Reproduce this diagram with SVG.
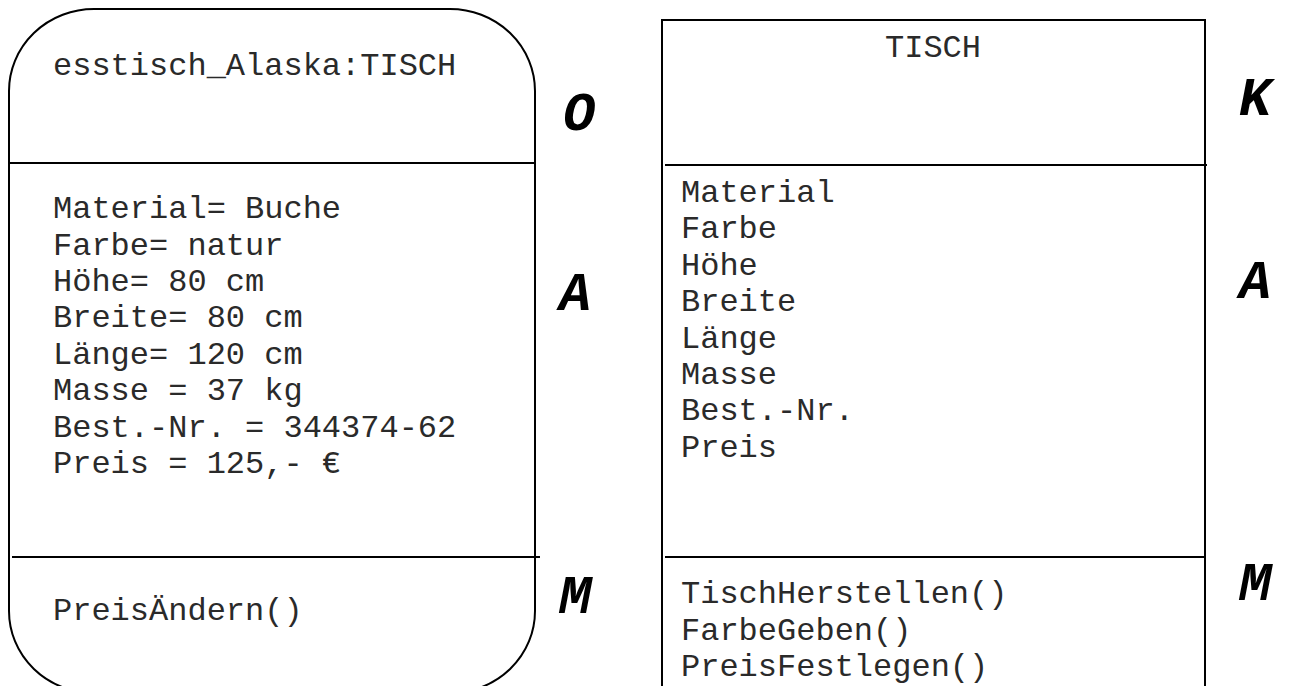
<svg xmlns="http://www.w3.org/2000/svg" width="1291" height="686" viewBox="0 0 1291 686">
<style>
.ln{stroke:#000;stroke-width:2;fill:none}
.t{font-family:"Liberation Mono","Courier New",monospace;font-size:32px;fill:#2a2a2a}
.lb{font-family:"Liberation Mono","Courier New",monospace;font-size:54px;font-weight:bold;font-style:italic;fill:#000}
</style>
<rect width="1291" height="686" fill="#fff"/>
<g id="object">
<rect class="ln" x="9" y="9" width="526" height="684" rx="85" ry="82"/>
<line class="ln" x1="9" y1="163" x2="535" y2="163"/>
<line class="ln" x1="12" y1="557" x2="540" y2="557"/>
<text class="t" x="53" y="75">esstisch_Alaska:TISCH</text>
<text class="t" x="53" y="218">Material= Buche</text>
<text class="t" x="53" y="255">Farbe= natur</text>
<text class="t" x="53" y="291">Höhe= 80 cm</text>
<text class="t" x="53" y="327">Breite= 80 cm</text>
<text class="t" x="53" y="364">Länge= 120 cm</text>
<text class="t" x="53" y="400">Masse = 37 kg</text>
<text class="t" x="53" y="437">Best.-Nr. = 344374-62</text>
<text class="t" x="53" y="473">Preis = 125,- €</text>
<text class="t" x="53" y="620">PreisÄndern()</text>
</g>
<g id="class">
<polyline class="ln" points="662,700 662,20 1205,20 1205,700"/>
<line class="ln" x1="665" y1="165" x2="1207" y2="165"/>
<line class="ln" x1="665" y1="557" x2="1205" y2="557"/>
<text class="t" x="933" y="57" text-anchor="middle">TISCH</text>
<text class="t" x="681" y="202">Material</text>
<text class="t" x="681" y="238">Farbe</text>
<text class="t" x="681" y="275">Höhe</text>
<text class="t" x="681" y="311">Breite</text>
<text class="t" x="681" y="348">Länge</text>
<text class="t" x="681" y="384">Masse</text>
<text class="t" x="681" y="420">Best.-Nr.</text>
<text class="t" x="681" y="457">Preis</text>
<text class="t" x="681" y="603">TischHerstellen()</text>
<text class="t" x="681" y="640">FarbeGeben()</text>
<text class="t" x="681" y="676">PreisFestlegen()</text>
</g>
<g id="labels">
<text class="lb" x="563" y="130">O</text>
<text class="lb" x="559" y="310">A</text>
<text class="lb" x="559" y="613">M</text>
<text class="lb" x="1239" y="115">K</text>
<text class="lb" x="1239" y="298">A</text>
<text class="lb" x="1239" y="600">M</text>
</g>
<g id="connectors"/>
</svg>
